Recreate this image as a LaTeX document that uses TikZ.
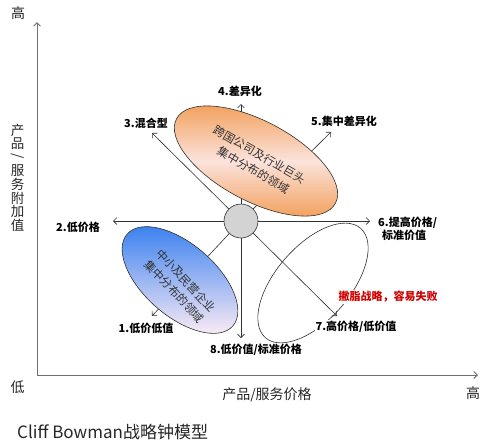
\documentclass[tikz,border=0pt]{standalone}
\usepackage{fontspec}
\usepackage{graphicx}
\setmainfont{Noto Sans CJK SC}
\usetikzlibrary{arrows.meta}
\definecolor{axisgray}{HTML}{707070}
\definecolor{arrgray}{HTML}{303030}
\definecolor{orgE}{HTML}{F29E58}
\definecolor{orgM}{HTML}{FBE3DC}
\definecolor{bluT}{HTML}{3F83F0}
\definecolor{bluB}{HTML}{F7E9F4}
\definecolor{circfill}{HTML}{D3D3D3}
\definecolor{redtxt}{HTML}{D00000}
\begin{document}
\begin{tikzpicture}[x=1pt,y=-1pt,
  axis/.style={draw=axisgray, line width=1pt, -{Straight Barb[length=3.5pt,width=7pt]}},
  spoke/.style={draw=arrgray, line width=0.6pt, -{Straight Barb[length=3.5pt,width=7pt]}},
  lbl/.style={font=\fontsize{11}{13}\selectfont\bfseries, text=black, inner sep=1pt},
  axlbl/.style={font=\fontsize{14}{15}\selectfont, text=black!85, inner sep=0pt},
  area/.style={font=\fontsize{11.5}{15.5}\selectfont, text=black!80, inner sep=0pt},
  vch/.style={font=\fontsize{13.5}{13.5}\selectfont, text=black!85, inner sep=0pt},
  outl/.style={draw=arrgray, line width=0.6pt},
]
\useasboundingbox (0,0) rectangle (484,445);
% axes
\coordinate (o) at (37,375);
\coordinate (ytop) at (37,22);
\coordinate (xend) at (478,375);
\draw[axis] (o) -- (ytop);
\draw[axis] (o) -- (xend);
% centre circle
\node[circle, outl, fill=circfill, minimum size=34pt, inner sep=0pt] (c) at (241,221) {};
% spoke ends
\coordinate (t1) at (152,316);
\coordinate (t2) at (113,221);
\coordinate (t3) at (152,133);
\coordinate (t4) at (241,104);
\coordinate (t5) at (331,132);
\coordinate (t6) at (370,221);
\coordinate (t7) at (337,316);
\coordinate (t8) at (241,338);
\foreach \i in {1,...,8} \draw[spoke] (c) -- (t\i);
% orange ellipse
\begin{scope}[shift={(256,161)}, rotate=-28]
  \shadedraw[top color=orgE, bottom color=orgE, middle color=orgM, outl] (0,0) ellipse [x radius=90, y radius=40];
\end{scope}
% blue ellipse
\begin{scope}[shift={(180,280)}, rotate=-41]
  \shadedraw[top color=bluT, bottom color=bluB, outl] (0,0) ellipse [x radius=70, y radius=36];
\end{scope}
% white ellipse
\begin{scope}[shift={(313,283)}, rotate=49]
  \draw[outl] (0,0) ellipse [x radius=72.5, y radius=37];
\end{scope}
% area texts
\node[area, rotate=-30] (ot1) at (259.5,154.5) {跨国公司及行业巨头};
\node[area, rotate=-30] (ot2) at (253.5,170) {集中分布的领域};
\node[area, rotate=-47] (bt1) at (186,280.5) {中小及民营企业};
\node[area, rotate=-47] (bt2) at (174.5,291.5) {集中分布的领域};
% spoke labels
\node[lbl] (l1) at (146,328) {1.低价低值};
\node[lbl] (l2) at (78,227) {2.低价格};
\node[lbl] (l3) at (146,123) {3.混合型};
\node[lbl] (l4) at (240,91) {4.差异化};
\node[lbl] (l5) at (344,121) {5.集中差异化};
\node[lbl, align=left, anchor=west] (l6) at (377,228.5) {6.提高价格/\\\hspace*{4pt}标准价值};
\node[lbl, fill=white] (l7) at (356,327) {7.高价格/低价值};
\node[lbl] (l8) at (256,350) {8.低价值/标准价格};
\node[lbl, fill=white, text=redtxt] (red) at (388,297) {撇脂战略，容易失败};
% axis labels
\node[axlbl] (yhi) at (18,13) {高};
\node[axlbl] (ylo) at (17.5,387) {低};
\node[axlbl] (xhi) at (473,393) {高};
\node[axlbl] (xl) at (267,395) {产品/服务价格};
\foreach \ch [count=\k from 0] in {产,品,{\rotatebox[origin=c]{-90}{/}},服,务,附,加,值}
  \node[vch] (y\k) at (17.5,{130+13.6*\k}) {\ch};
\node[font=\fontsize{17}{17}\selectfont, text=black!85, anchor=west, inner sep=0pt] (title) at (17,432) {Cliff Bowman战略钟模型};
\end{tikzpicture}
\end{document}
